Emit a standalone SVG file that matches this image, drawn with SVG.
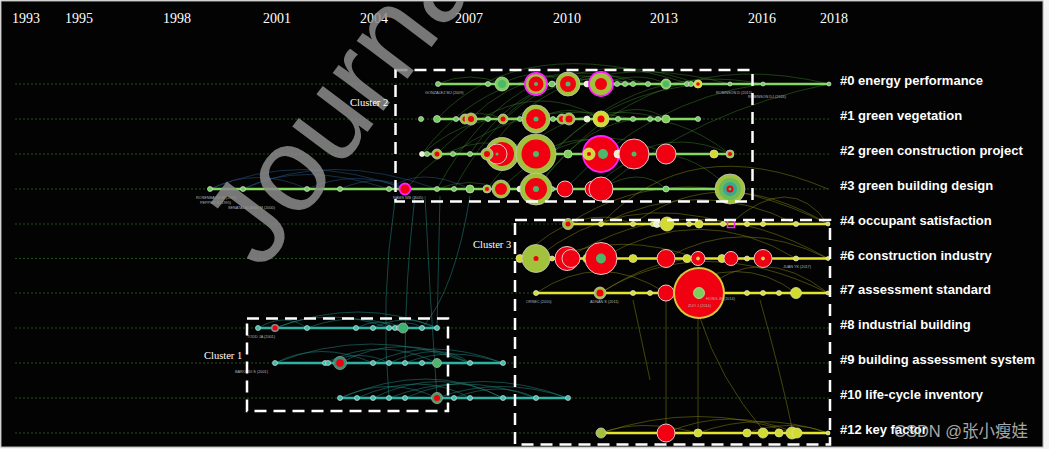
<svg xmlns="http://www.w3.org/2000/svg" width="1049" height="449" viewBox="0 0 1049 449">
<defs>
<style>
.yr{font-family:"Liberation Serif",serif;font-size:14px;fill:#fff}
.cl{font-family:"Liberation Serif",serif;font-size:10.5px;fill:#fff}
.lab{font-family:"Liberation Sans",Arial,sans-serif;font-size:13px;font-weight:bold;fill:#fff}
.tiny{font-family:"Liberation Sans",Arial,sans-serif;font-size:3.8px;fill:#b4b4b4}
.guide{stroke:#24501c;stroke-width:1;stroke-dasharray:2 2;fill:none}
.box{fill:none;stroke:#fff;stroke-width:2.5;stroke-dasharray:12 7}
.l2{stroke:#82d860;stroke-width:2.4}
.l3{stroke:#e4e42a;stroke-width:2.4}
.l1{stroke:#2eb3a2;stroke-width:2.4}
.a2{fill:none;stroke:#3f8a2c;stroke-width:0.8;opacity:0.55}
.a3{fill:none;stroke:#8e8e12;stroke-width:0.8;opacity:0.6}
.a1{fill:none;stroke:#1f7f78;stroke-width:0.8;opacity:0.7}
.ab{fill:none;stroke:#24507a;stroke-width:0.8;opacity:0.7}
.s2{fill:#70cf5a;stroke:#e0e0e0;stroke-width:0.7}
.s3{fill:#d6e032;stroke:#eee;stroke-width:0.7}
.s1{fill:#3cc0ad;stroke:#ddd;stroke-width:0.7}
.sw{fill:#e8f0d0;stroke:#fff;stroke-width:0.7}
.o{fill:#a2c23c;stroke:#c8c8c8;stroke-width:0.8}
.y{fill:#d2dc30;stroke:#e0e0a0;stroke-width:0.8}
.r{fill:#f00010}
.rw{fill:#f00010;stroke:#e8c8c8;stroke-width:1}
.g{fill:#4cb86a}
.gm{fill:#7ccf5a;stroke:#c8e0b0;stroke-width:0.8}
.m{fill:none;stroke:#ff20ff;stroke-width:1.8}
</style>
<clipPath id="frame"><rect x="1" y="1" width="1042" height="446"/></clipPath>
</defs>
<rect width="1049" height="449" fill="#f4f4f4"/>
<rect x="1" y="1" width="1042" height="446" fill="#030303" stroke="#b0b0b0" stroke-width="1"/>
<g clip-path="url(#frame)">
<g id="header">
<text class="yr" x="12" y="23">1993</text>
<text class="yr" x="65" y="23">1995</text>
<text class="yr" x="163" y="23">1998</text>
<text class="yr" x="263" y="23">2001</text>
<text class="yr" x="360" y="23">2004</text>
<text class="yr" x="455" y="23">2007</text>
<text class="yr" x="553" y="23">2010</text>
<text class="yr" x="650" y="23">2013</text>
<text class="yr" x="748" y="23">2016</text>
<text class="yr" x="820" y="23">2018</text>
</g>
<g id="guides">
<path class="guide" d="M15 84H830M15 119H830M15 154H830M15 189H830M15 224H830M15 258.5H830M15 293H830M15 328H830M15 363H830M15 398H830M15 433H830"/>
</g>
<g id="connectors">
<path class="ab" d="M210 189Q258 166 307 189M243 189Q300 160 389 189M210 189Q300 150 406 189M307 189Q355 168 406 189M243 189Q330 150 437 189M340 189Q380 172 406 189M389 189Q420 165 470 189"/>
<path class="a2" d="M437 189Q480 110 536 84M454 189Q520 70 601 84M470 154Q530 60 633 84M487 189Q560 90 666 119M503 119Q580 40 698 84M520 189Q600 80 730 84M437 154Q520 70 601 119M536 189Q620 70 730 154M422 154Q470 110 536 119M453 154Q530 95 633 119M565 189Q650 100 763 84M593 189Q660 120 730 189M470 119Q540 50 648 84M406 189Q460 120 536 154M501 189Q580 110 666 154M552 154Q640 60 763 84M487 154Q560 40 730 84M422 154Q500 50 633 84M536 189Q650 40 829 84M601 189Q700 110 829 84M437 119Q520 30 690 84"/>
<path class="a2" d="M437 84Q470 70 502 84M502 84Q535 65 568 84M568 84Q600 66 633 84M456 119Q480 108 503 119M536 119Q570 102 601 119M487 154Q520 135 553 154M536 154Q590 125 633 154M601 189Q640 165 666 189M437 189Q470 176 501 189M601 84Q640 70 666 84M601 119Q640 100 666 119M633 154Q680 130 730 154"/>
<path class="a3" d="M568 224Q680 150 828 224M601 224Q700 175 796 224M633 224Q720 160 828 224M520 258.5Q580 200 633 224M536 258.5Q620 190 731 224M567 258.5Q690 180 828 258.5M601 258.5Q700 200 796 258.5M666 258.5Q740 215 828 258.5M536 293Q600 250 666 293M600 293Q700 230 828 293M666 293Q740 250 796 293M699 293Q760 240 828 293M552 258.5Q620 230 698 258.5M601 293Q650 260 698 258.5M730 224Q790 170 828 224M601 224Q690 130 828 189"/>
<path class="a3" d="M601 433Q640 418 698 433M666 433Q730 405 796 433M698 433Q760 410 828 433M747 433Q790 418 828 433M601 433Q700 400 792 433"/>
<path class="a3" d="M666 300L666 425M698 318L698 429M700 318Q720 380 763 430M760 300Q780 370 792 428M633 300L650 380"/>
<path class="a1" d="M258 328Q285 312 307 328M275 328Q330 306 389 328M307 328Q355 310 398 328M356 328Q380 316 403 328M373 328Q405 312 437 328M389 328Q410 318 422 328M275 328Q360 296 437 328"/>
<path class="a1" d="M275 363Q320 340 373 363M325 363Q380 335 437 363M340 363Q400 330 470 363M373 363Q430 335 503 363M389 363Q440 340 470 363M405 363Q450 345 503 363M327 363Q360 348 389 363M275 363Q370 325 470 363"/>
<path class="a1" d="M340 398Q390 375 437 398M357 398Q420 370 470 398M373 398Q440 365 503 398M389 398Q460 370 536 398M405 398Q480 365 568 398M437 398Q500 375 568 398M454 398Q500 380 536 398M340 398Q430 360 503 398"/>
<path class="a1" d="M415 196Q405 280 405 363M440 196L437 328M425 196Q430 300 437 398M470 196Q455 290 422 328M395 200Q380 300 389 398"/>
</g>
<g id="cluster-lines">
<path class="l2" d="M438 84H830M437 119H698M422 154H730M210 189H745"/>
<path class="l3" d="M568 224H830M520 258.5H830M536 293H830M601 433H830"/>
<path class="l1" d="M258 328H437M275 363H503M340 398H568"/>
</g>
<g id="row0">
<circle class="s2" cx="438" cy="84" r="2.5"/><circle class="s2" cx="488" cy="84" r="2.5"/><circle class="s2" cx="552" cy="84" r="3"/><circle class="sw" cx="587" cy="84" r="3"/><circle class="sw" cx="591" cy="84" r="3"/><circle class="s2" cx="617" cy="84" r="2.5"/><circle class="s2" cx="625" cy="84" r="2.5"/><circle class="s2" cx="633" cy="84" r="2.5"/><circle class="s2" cx="648" cy="84" r="2.5"/><circle class="s2" cx="687" cy="84" r="2.5"/><circle class="s2" cx="691" cy="84" r="2.5"/><circle class="s2" cx="730" cy="84" r="2"/><circle class="s2" cx="763" cy="84" r="2"/><circle class="s2" cx="829" cy="84" r="2"/>
<g id="n0-502"><circle class="gm" cx="502" cy="84" r="7"/><circle class="g" cx="502" cy="84" r="4"/></g>
<g id="n0-536"><circle class="o" cx="536" cy="84" r="11"/><circle class="r" cx="536" cy="84" r="7.5"/><circle class="g" cx="536" cy="84" r="2"/><circle class="m" cx="536" cy="84" r="11"/></g>
<g id="n0-568"><circle class="o" cx="568" cy="84" r="12"/><circle class="r" cx="568" cy="84" r="8"/><circle class="g" cx="568" cy="84" r="2.5"/></g>
<g id="n0-601"><circle class="o" cx="601" cy="84" r="12"/><circle class="r" cx="601" cy="84" r="6"/><circle class="m" cx="601" cy="84" r="12"/></g>
<g id="n0-666"><circle class="gm" cx="666" cy="84" r="5"/><circle class="g" cx="666" cy="84" r="3"/></g>
<g id="n0-698"><circle class="y" cx="698" cy="84" r="4"/><circle class="r" cx="698" cy="84" r="1.8"/></g>
</g>
<g id="row1">
<circle class="s2" cx="421" cy="119" r="2.5"/><circle class="s2" cx="437" cy="119" r="3.5"/><circle class="s2" cx="456" cy="119" r="2.5"/><circle class="s2" cx="488" cy="119" r="2.5"/><circle class="s2" cx="520" cy="119" r="2.5"/><circle class="s2" cx="553" cy="119" r="2.5"/><circle class="sw" cx="587" cy="119" r="3"/><circle class="s2" cx="618" cy="119" r="2.5"/><circle class="s2" cx="633" cy="119" r="2.5"/><circle class="s2" cx="650" cy="119" r="2.5"/><circle class="s2" cx="658" cy="119" r="2.5"/><circle class="s2" cx="698" cy="119" r="2.5"/>
<g id="n1-465"><circle class="o" cx="465" cy="119" r="5"/><circle class="r" cx="465" cy="119" r="2.5"/></g>
<g id="n1-470"><circle class="o" cx="471" cy="119" r="6"/><circle class="r" cx="471" cy="119" r="3"/></g>
<g id="n1-503"><circle class="o" cx="503" cy="119" r="5"/><circle class="r" cx="503" cy="119" r="2.5"/></g>
<g id="n1-536"><circle class="o" cx="536" cy="119" r="14"/><circle class="r" cx="536" cy="119" r="10"/><circle class="g" cx="536" cy="119" r="2.5"/></g>
<g id="n1-562"><circle class="o" cx="562" cy="119" r="5"/><circle class="r" cx="562" cy="119" r="3"/></g>
<g id="n1-569"><circle class="o" cx="569" cy="119" r="6"/><circle class="r" cx="569" cy="119" r="3.5"/></g>
<g id="n1-601"><circle class="y" cx="601" cy="119" r="8"/><circle class="r" cx="601" cy="119" r="3.5"/></g>
<g id="n1-666"><circle class="gm" cx="666" cy="119" r="4"/></g>
</g>
<g id="row2">
<circle class="sw" cx="422" cy="154" r="2.5"/><circle class="s2" cx="427" cy="154" r="2.5"/><circle class="s2" cx="453" cy="154" r="2.5"/><circle class="s2" cx="470" cy="154" r="2.5"/><circle class="s2" cx="553" cy="154" r="2.5"/><circle class="gm" cx="568" cy="154" r="4"/>
<g id="n2-437"><circle class="o" cx="437" cy="154" r="5"/><circle class="r" cx="437" cy="154" r="2.5"/></g>
<g id="n2-502"><circle class="o" cx="502" cy="154" r="16.5"/><circle class="r" cx="502" cy="154" r="12"/></g>
<g id="n2-497"><circle class="rw" cx="497" cy="154" r="10"/><circle class="g" cx="497" cy="154" r="1.5"/></g>
<g id="n2-487"><circle class="o" cx="487" cy="154" r="6" stroke="#fff"/><circle class="r" cx="487" cy="154" r="3"/></g>
<g id="n2-522"><circle class="o" cx="522" cy="154" r="6"/><circle class="r" cx="522" cy="154" r="3.5"/></g>
<g id="n2-536"><circle class="o" cx="536" cy="154" r="20"/><circle class="r" cx="536" cy="154" r="14.5"/><circle class="g" cx="536" cy="154" r="3"/></g>
<g id="n2-600"><circle class="r" cx="601" cy="154" r="18"/><circle class="m" cx="601" cy="154" r="18"/><circle class="g" cx="603" cy="154" r="5"/></g>
<g id="n2-588"><circle class="y" cx="589" cy="154" r="6"/><circle class="r" cx="589" cy="154" r="2"/></g>
<g id="n2-618"><circle class="sw" cx="618" cy="154" r="4"/></g>
<g id="n2-633"><circle class="rw" cx="634" cy="154" r="15"/><circle class="g" cx="634" cy="154" r="2.5"/></g>
<g id="n2-666"><circle class="rw" cx="666" cy="154" r="10"/></g>
<g id="n2-714"><circle class="y" cx="714" cy="154" r="4"/></g>
<g id="n2-730"><circle class="o" cx="730" cy="154" r="4"/><circle class="r" cx="730" cy="154" r="2"/></g>
</g>
<g id="row3">
<circle class="s2" cx="210" cy="189" r="2.5"/><circle class="s2" cx="243" cy="189" r="2.5"/><circle class="s2" cx="307" cy="189" r="2.5"/><circle class="s2" cx="340" cy="189" r="2.5"/><circle class="s2" cx="389" cy="189" r="2.5"/><circle class="s2" cx="437" cy="189" r="2.5"/><circle class="s2" cx="454" cy="189" r="2.5"/><circle class="gm" cx="470" cy="189" r="4"/><circle class="sw" cx="520" cy="189" r="3"/><circle class="s2" cx="552" cy="189" r="2.5"/><circle class="s2" cx="666" cy="189" r="3"/>
<g id="n3-406"><circle class="r" cx="405" cy="189" r="5.5"/><circle class="m" cx="405" cy="189" r="5.5"/></g>
<g id="n3-487"><circle class="o" cx="487" cy="189" r="4"/><circle class="r" cx="487" cy="189" r="2"/></g>
<g id="n3-501"><circle class="o" cx="501" cy="189" r="9"/><circle class="r" cx="501" cy="189" r="6"/></g>
<g id="n3-536"><circle class="o" cx="536" cy="189" r="16"/><circle class="r" cx="536" cy="189" r="11"/><circle class="g" cx="536" cy="189" r="3"/></g>
<g id="n3-565"><circle class="rw" cx="565" cy="189" r="8"/></g>
<g id="n3-593"><circle class="rw" cx="593" cy="189" r="8"/></g>
<g id="n3-601"><circle class="rw" cx="601" cy="189" r="12"/></g>
<g id="n3-730"><circle class="o" cx="730" cy="189" r="15"/><circle fill="#6cba5a" cx="730" cy="189" r="11"/><circle fill="#3aa890" cx="730" cy="189" r="7"/><circle class="r" cx="730" cy="189" r="3.5"/><circle class="g" cx="730" cy="189" r="1.5"/></g>
</g>
<g id="row4">
<circle class="s3" cx="601" cy="224" r="2.5"/><circle class="s3" cx="633" cy="224" r="2.5"/><circle class="s3" cx="653" cy="224" r="2.5"/><circle class="sw" cx="657" cy="224" r="3.5"/><circle class="s3" cx="689" cy="224" r="2.5"/><circle class="s3" cx="723" cy="224" r="2.5"/><circle class="s3" cx="747" cy="224" r="2.5"/><circle class="s3" cx="763" cy="224" r="2.5"/><circle class="s3" cx="796" cy="224" r="2.5"/><circle class="s3" cx="828" cy="224" r="2"/>
<g id="n4-568"><circle class="o" cx="568" cy="224" r="5.5"/><circle class="r" cx="568" cy="224" r="2.5"/></g>
<g id="n4-662"><circle class="r" cx="662" cy="224" r="2.5"/></g>
<g id="n4-667"><circle class="y" cx="667" cy="224" r="7"/></g>
<g id="n4-699"><circle class="y" cx="699" cy="224" r="4"/></g>
<g id="n4-731"><rect x="727.5" y="220.5" width="7" height="7" fill="none" stroke="#ff20ff" stroke-width="1.5"/></g>
</g>
<g id="row6">
<circle class="s3" cx="552" cy="258.5" r="2.5"/><circle class="s3" cx="747" cy="258.5" r="2.5"/><circle class="s3" cx="796" cy="258.5" r="2.5"/><circle class="s3" cx="828" cy="258.5" r="2"/>
<g id="n6-520"><circle class="y" cx="520" cy="258.5" r="4" stroke="#fff"/></g>
<g id="n6-536"><circle class="o" cx="536" cy="258.5" r="14"/><circle class="r" cx="536" cy="258.5" r="2.5"/></g>
<g id="n6-567"><circle class="rw" cx="567" cy="258.5" r="12"/><circle class="rw" cx="571" cy="258.5" r="9"/></g>
<g id="n6-588"><circle class="y" cx="588" cy="258.5" r="5"/><circle class="r" cx="588" cy="258.5" r="2"/></g>
<g id="n6-601"><circle class="rw" cx="601" cy="258.5" r="16" stroke="#f0e0c0" stroke-width="1.5"/><circle class="g" cx="601" cy="258.5" r="5"/></g>
<g id="n6-633"><circle class="y" cx="633" cy="258.5" r="4"/></g>
<g id="n6-666"><circle class="rw" cx="666" cy="258.5" r="9"/></g>
<g id="n6-687"><circle class="y" cx="687" cy="258.5" r="4"/></g>
<g id="n6-698"><circle class="rw" cx="698" cy="258.5" r="7"/><circle class="y" cx="698" cy="258.5" r="1.5"/></g>
<g id="n6-722"><circle class="y" cx="722" cy="258.5" r="4"/></g>
<g id="n6-731"><circle class="rw" cx="731" cy="258.5" r="7"/></g>
<g id="n6-763"><circle class="rw" cx="763" cy="258.5" r="9"/><circle class="y" cx="763" cy="258.5" r="1.5"/></g>
</g>
<g id="row7">
<circle class="s3" cx="536" cy="293" r="2.5"/><circle class="s3" cx="633" cy="293" r="2.5"/><circle class="s3" cx="650" cy="293" r="2.5"/><circle class="s3" cx="714" cy="293" r="2.5"/><circle class="s3" cx="747" cy="293" r="2.5"/><circle class="s3" cx="763" cy="293" r="2.5"/><circle class="s3" cx="779" cy="293" r="2.5"/><circle class="s3" cx="828" cy="293" r="2"/>
<g id="n7-600"><circle class="o" cx="600" cy="293" r="6"/><circle class="r" cx="600" cy="293" r="3.5"/></g>
<g id="n7-666"><circle class="rw" cx="666" cy="293" r="8"/></g>
<g id="n7-682"><circle class="y" cx="682" cy="293" r="5"/><circle class="r" cx="682" cy="293" r="2"/></g>
<g id="n7-699"><circle fill="#d8c840" cx="699" cy="293" r="26"/><circle class="r" cx="699" cy="293" r="24"/><circle class="gm" cx="699" cy="293" r="5.5"/></g>
<g id="n7-796"><circle class="y" cx="796" cy="293" r="5.5"/></g>
</g>
<g id="row12">
<circle class="s3" cx="828" cy="433" r="2"/>
<g id="n12-601"><circle class="o" cx="601" cy="433" r="5"/></g>
<g id="n12-666"><circle class="rw" cx="666" cy="433" r="9"/></g>
<g id="n12-698"><circle class="y" cx="698" cy="433" r="4"/></g>
<g id="n12-747"><circle class="y" cx="747" cy="433" r="4"/></g>
<g id="n12-763"><circle class="y" cx="763" cy="433" r="5"/></g>
<g id="n12-779"><circle class="y" cx="779" cy="433" r="4"/></g>
<g id="n12-792"><circle class="y" cx="792" cy="433" r="6" stroke="#fff"/></g>
<g id="n12-796"><circle class="y" cx="797" cy="433" r="5"/></g>
</g>
<g id="row8">
<circle class="s1" cx="258" cy="328" r="2.5"/><circle class="s1" cx="307" cy="328" r="2.5"/><circle class="s1" cx="356" cy="328" r="2.5"/><circle class="s1" cx="373" cy="328" r="2.5"/><circle class="s1" cx="389" cy="328" r="2.5"/><circle class="s1" cx="395" cy="328" r="2.5"/><circle class="s1" cx="399" cy="328" r="2.5"/><circle class="s1" cx="422" cy="328" r="2.5"/><circle class="s1" cx="437" cy="328" r="2.5"/>
<g id="n8-275"><circle fill="#888" cx="275" cy="328" r="4"/><circle class="r" cx="275" cy="328" r="2.5"/></g>
<g id="n8-403"><circle fill="#3cb371" stroke="#aaa" stroke-width="0.8" cx="403" cy="328" r="5"/></g>
</g>
<g id="row9">
<circle class="s1" cx="275" cy="363" r="2.5"/><circle class="s1" cx="325" cy="363" r="2.5"/><circle class="s1" cx="328" cy="363" r="2.5"/><circle class="s1" cx="373" cy="363" r="2.5"/><circle class="s1" cx="389" cy="363" r="2.5"/><circle class="s1" cx="405" cy="363" r="2.5"/><circle class="s1" cx="422" cy="363" r="2.5"/><circle class="s1" cx="470" cy="363" r="2.5"/><circle class="s1" cx="503" cy="363" r="2.5"/>
<g id="n9-340"><circle fill="#2f8f70" stroke="#999" stroke-width="0.8" cx="340" cy="363" r="6.5"/><circle class="r" cx="340" cy="363" r="3.8"/></g>
<g id="n9-437"><circle fill="#4cb86a" stroke="#aaa" stroke-width="0.8" cx="437" cy="363" r="4.5"/></g>
</g>
<g id="row10">
<circle class="s1" cx="340" cy="398" r="2.5"/><circle class="s1" cx="357" cy="398" r="2.5"/><circle class="s1" cx="373" cy="398" r="2.5"/><circle class="s1" cx="389" cy="398" r="2.5"/><circle class="s1" cx="405" cy="398" r="2.5"/><circle class="s1" cx="454" cy="398" r="2.5"/><circle class="s1" cx="470" cy="398" r="2.5"/><circle class="s1" cx="503" cy="398" r="2.5"/><circle class="s1" cx="536" cy="398" r="2.5"/><circle class="s1" cx="568" cy="398" r="2.5"/>
<g id="n10-437"><circle fill="#4a9a60" stroke="#aaa" stroke-width="0.8" cx="437" cy="398" r="5.5"/><circle class="r" cx="437" cy="398" r="3"/></g>
</g>
<g id="node-labels">
<text class="tiny" x="425" y="94">GONZALEZ MJ (2009)</text>
<text class="tiny" x="716" y="94">ROBINSON D (2015)</text>
<text class="tiny" x="748" y="98">ROBINSON DJ (2016)</text>
<text class="tiny" x="196" y="199">ROSENBAUM M (1993)</text>
<text class="tiny" x="200" y="204">PEPPER S (1995)</text>
<text class="tiny" x="228" y="209">SENATALADABBI M (2000)</text>
<text class="tiny" x="393" y="199">NAMS WB (2005)</text>
<text class="tiny" x="526" y="303">ORSEC (2010)</text>
<text class="tiny" x="590" y="303">ADNAN S (2011)</text>
<text class="tiny" x="688" y="307">ZUO J (2014)</text>
<text class="tiny" x="706" y="300">HONG JK (2014)</text>
<text class="tiny" x="783" y="268">JUAN YK (2017)</text>
<text class="tiny" x="247" y="338">TODD JA (2001)</text>
<text class="tiny" x="235" y="373">BAROUDI S (2001)</text>
</g>
<g id="clusters">
<rect class="box" x="395.5" y="70" width="357" height="131.5"/>
<rect class="box" x="515" y="220" width="315" height="224.5"/>
<rect class="box" x="247" y="318.5" width="201" height="92.5"/>
<text class="cl" x="204" y="359">Cluster 1</text>
<text class="cl" x="473" y="248">Cluster 3</text>
</g>
<g id="cluster-labels">
<text class="lab" x="840" y="85">#0 energy performance</text>
<text class="lab" x="840" y="120">#1 green vegetation</text>
<text class="lab" x="840" y="155">#2 green construction project</text>
<text class="lab" x="840" y="190">#3 green building design</text>
<text class="lab" x="840" y="225">#4 occupant satisfaction</text>
<text class="lab" x="840" y="259.5">#6 construction industry</text>
<text class="lab" x="840" y="294">#7 assessment standard</text>
<text class="lab" x="840" y="329">#8 industrial building</text>
<text class="lab" x="840" y="364">#9 building assessment system</text>
<text class="lab" x="840" y="399">#10 life-cycle inventory</text>
<text class="lab" x="840" y="434">#12 key factor</text>
</g>
<text x="262" y="272" transform="rotate(-53 262 272)" font-family="Liberation Sans,Arial,sans-serif" font-size="120" fill="#8c8c8c" opacity="0.85">Journal</text>
<text class="cl" x="350" y="106">Cluster 2</text>
<text x="894" y="437" font-family="Liberation Sans,'Noto Sans CJK SC',sans-serif" font-size="16.5" fill="#d0d0d0" opacity="0.8">CSDN @张小瘦娃</text>
</g>
</svg>
